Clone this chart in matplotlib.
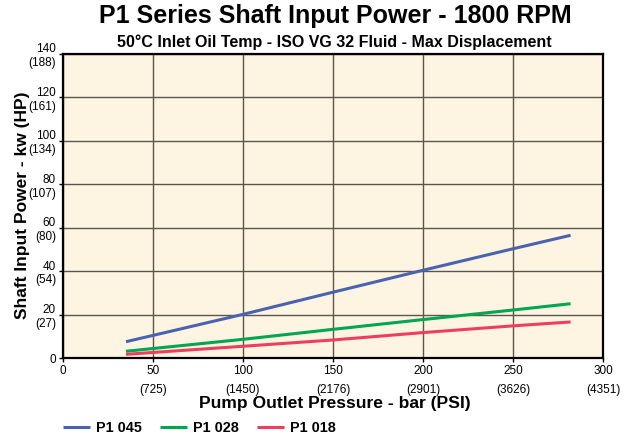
import matplotlib.pyplot as plt

plt.rcParams['font.family'] = ['Liberation Sans', 'DejaVu Sans']

# pressure in bar, power in kw
pressure = [35, 100, 150, 200, 250, 282]
p1_045 = [7.5, 20.1, 30.3, 40.4, 50.3, 56.5]
p1_028 = [3.1, 8.6, 13.2, 17.7, 22.1, 25.0]
p1_018 = [1.7, 5.4, 8.3, 11.7, 14.8, 16.6]

x_ticks = [0, 50, 100, 150, 200, 250, 300]
x_psi = ['', '(725)', '(1450)', '(2176)', '(2901)', '(3626)', '(4351)']
y_ticks = [0, 20, 40, 60, 80, 100, 120, 140]
y_hp = ['', '(27)', '(54)', '(80)', '(107)', '(134)', '(161)', '(188)']

fig = plt.figure(figsize=(6.31, 4.41), dpi=100)
ax = fig.add_axes([0.0998, 0.1882, 0.8558, 0.6894])
ax.set_facecolor('#fdf4e1')

ax.plot(pressure, p1_045, color='#4a63b0', lw=2.2, label='P1 045', solid_capstyle='butt')
ax.plot(pressure, p1_028, color='#00a651', lw=2.2, label='P1 028', solid_capstyle='butt')
ax.plot(pressure, p1_018, color='#ee3e5e', lw=2.2, label='P1 018', solid_capstyle='butt')

ax.set_xlim(0, 300)
ax.set_ylim(0, 140)
ax.set_xticks(x_ticks)
ax.set_xticklabels([f'{t}\n{p}' if p else f'{t}' for t, p in zip(x_ticks, x_psi)], fontsize=8.5, linespacing=1.75)
ax.set_yticks(y_ticks)
ax.set_yticklabels([f'{t}\n{h}' if h else f'{t}' for t, h in zip(y_ticks, y_hp)], fontsize=8.5)
for lbl in ax.get_xticklabels():
    lbl.set_verticalalignment('top')
ax.tick_params(length=3, width=1, pad=2)

ax.grid(True, color='#5a5550', lw=1.0)
ax.set_axisbelow(True)
for s in ax.spines.values():
    s.set_linewidth(1.6)
    s.set_color('black')

# axis titles placed where the reference has them
fig.text(0.5309, 1 - 408 / 441, 'Pump Outlet Pressure - bar (PSI)', ha='center', va='baseline',
         fontsize=12.6, fontweight='bold')
fig.text(23 / 631, 1 - 205 / 441, 'Shaft Input Power - kw (HP)', ha='center', va='center',
         rotation=90, fontsize=12.5, fontweight='bold')

fig.text(0.5309, 1 - 22.7 / 441, 'P1 Series Shaft Input Power - 1800 RPM', ha='center', va='baseline',
         fontsize=18, fontweight='bold')
fig.text(0.5293, 1 - 46.7 / 441, '50°C Inlet Oil Temp - ISO VG 32 Fluid - Max Displacement', ha='center',
         va='baseline', fontsize=11.5, fontweight='bold')

fig.legend(loc='center left', bbox_to_anchor=(63 / 631, 1 - 428 / 441), ncol=3, frameon=False,
           prop={'weight': 'bold', 'size': 10.4}, handlelength=1.87, handletextpad=0.42,
           columnspacing=1.25, borderpad=0, borderaxespad=0)

fig.savefig('out.png', dpi=100)
